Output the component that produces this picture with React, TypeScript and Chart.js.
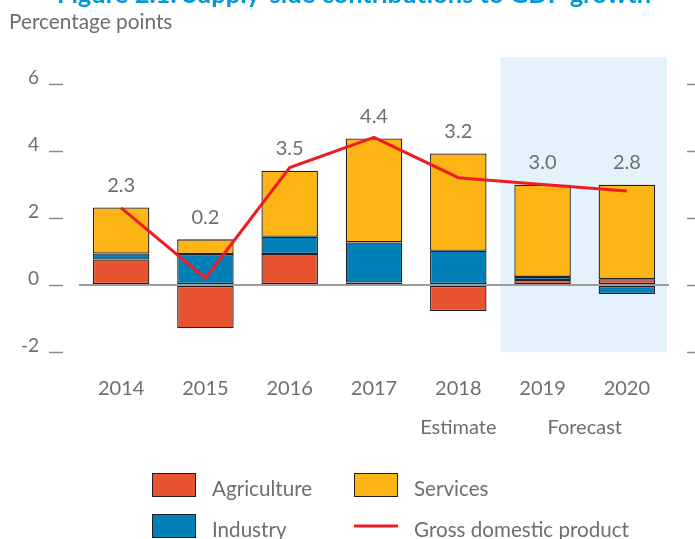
import React, { useEffect, useRef } from "react";
import { Chart, registerables } from "chart.js";

Chart.register(...registerables);

const categories = ["2014", "2015", "2016", "2017", "2018", "2019", "2020"];
const agriculture = [0.76, -1.29, 0.92, 0.07, -0.78, 0.15, 0.17];
const industry = [0.18, 0.92, 0.52, 1.2, 1.02, 0.09, -0.27];
const services = [1.37, 0.44, 1.97, 3.1, 2.9, 2.75, 2.82];
const gdp = [2.3, 0.2, 3.5, 4.4, 3.2, 3.0, 2.8];
const yTickValues = [-2, 0, 2, 4, 6];
const periodNotes = [
  { text: "Estimate", from: 4, to: 4 },
  { text: "Forecast", from: 5, to: 6 },
];
const forecastStart = 5;
const titleText = "Figure 2.1: Supply-side contributions to GDP growth";
const unitText = "Percentage points";

const FONT = "Lato, 'Open Sans', sans-serif";
const GRAY = "#6d6e71";
const C_AGRI = "#E8542F";
const C_IND = "#0080B7";
const C_SERV = "#FDB515";
const C_GDP = "#EE1D25";
const C_EDGE = "#231F20";

const decorPlugin = {
  id: "decor",
  beforeDraw(chart: any) {
    const { ctx, chartArea, scales } = chart;
    const x = scales.x;
    const left =
      (x.getPixelForValue(forecastStart - 1) + x.getPixelForValue(forecastStart)) / 2;
    ctx.save();
    ctx.fillStyle = "#E4F2FB";
    ctx.fillRect(left, chartArea.top, chartArea.right - 2 - left, chartArea.bottom - chartArea.top);
    ctx.restore();
  },
  afterDraw(chart: any) {
    const { ctx, scales } = chart;
    const x = scales.x;
    const y = scales.y;
    ctx.save();
    // title (cut off at top) and unit label
    ctx.fillStyle = "#0098D8";
    ctx.font = `bold 25.5px ${FONT}`;
    ctx.textAlign = "center";
    ctx.textBaseline = "alphabetic";
    ctx.fillText(titleText, 354, 3);
    ctx.fillStyle = GRAY;
    ctx.font = `20.8px ${FONT}`;
    ctx.textAlign = "left";
    ctx.fillText(unitText, 9, 29);

    // tick marks on both sides
    ctx.strokeStyle = "#8a8a8a";
    ctx.lineWidth = 1.5;
    yTickValues.forEach((v) => {
      const py = Math.round(y.getPixelForValue(v)) + 0.5;
      ctx.beginPath();
      ctx.moveTo(49, py);
      ctx.lineTo(63, py);
      ctx.moveTo(687, py);
      ctx.lineTo(695, py);
      ctx.stroke();
    });

    // value labels above bars
    ctx.fillStyle = GRAY;
    ctx.font = `20px ${FONT}`;
    ctx.textAlign = "center";
    ctx.textBaseline = "middle";
    categories.forEach((_, i) => {
      const pos = [agriculture[i], industry[i], services[i]]
        .filter((v) => v > 0)
        .reduce((a, b) => a + b, 0);
      const px = x.getPixelForValue(i);
      const py = y.getPixelForValue(pos) - 22;
      ctx.fillText(gdp[i].toFixed(1), px, py);
    });

    // period notes under axis
    periodNotes.forEach((n) => {
      const px = (x.getPixelForValue(n.from) + x.getPixelForValue(n.to)) / 2;
      ctx.fillText(n.text, px, 428);
    });

    // legend
    const items = chart.data.datasets;
    const find = (lbl: string) => items.find((d: any) => d.label === lbl);
    const layout = [
      { ds: find("Agriculture"), bx: 152, cy: 485 },
      { ds: find("Services"), bx: 354, cy: 485 },
      { ds: find("Industry"), bx: 152, cy: 526 },
      { ds: find("Gross domestic product"), bx: 354, cy: 526 },
    ];
    ctx.font = `20.6px ${FONT}`;
    ctx.textAlign = "left";
    ctx.textBaseline = "alphabetic";
    layout.forEach((it) => {
      if (!it.ds) return;
      if (it.ds.type === "line") {
        ctx.strokeStyle = it.ds.borderColor;
        ctx.lineWidth = 3;
        ctx.beginPath();
        ctx.moveTo(it.bx, it.cy);
        ctx.lineTo(it.bx + 44, it.cy);
        ctx.stroke();
      } else {
        ctx.fillStyle = it.ds.backgroundColor;
        ctx.fillRect(it.bx, it.cy - 12, 44, 24);
        ctx.strokeStyle = C_EDGE;
        ctx.lineWidth = 1;
        ctx.strokeRect(it.bx + 0.5, it.cy - 11.5, 43, 23);
      }
      ctx.fillStyle = GRAY;
      ctx.fillText(it.ds.label, it.bx + 60, it.cy + 11);
    });
    ctx.restore();
  },
};

export default function App() {
  const ref = useRef<HTMLCanvasElement | null>(null);
  useEffect(() => {
    document.body.style.margin = "0";
    if (!ref.current) return;
    const barCommon = {
      type: "bar" as const,
      borderColor: C_EDGE,
      borderWidth: 1.3,
      borderSkipped: false,
      stack: "supply",
      order: 1,
      categoryPercentage: 1,
      barPercentage: 0.67,
    };
    const chart = new Chart(ref.current, {
      type: "bar",
      data: {
        labels: categories,
        datasets: [
          {
            type: "line",
            label: "Gross domestic product",
            data: gdp,
            borderColor: C_GDP,
            backgroundColor: C_GDP,
            borderWidth: 3,
            pointRadius: 0,
            tension: 0,
            stack: "gdp",
            order: 0,
          } as any,
          { ...barCommon, label: "Agriculture", data: agriculture, backgroundColor: C_AGRI },
          { ...barCommon, label: "Industry", data: industry, backgroundColor: C_IND },
          { ...barCommon, label: "Services", data: services, backgroundColor: C_SERV },
        ],
      },
      options: {
        responsive: false,
        animation: false,
        layout: { padding: { top: 57, right: 26, bottom: 117, left: 0 } },
        plugins: { legend: { display: false }, tooltip: { enabled: false } },
        scales: {
          x: {
            stacked: true,
            grid: { display: false },
            border: { display: false },
            ticks: {
              color: GRAY,
              font: { family: FONT, size: 20 },
              padding: 17,
            },
            afterFit: (s: any) => {
              s.height = 70;
            },
          },
          y: {
            stacked: true,
            min: -2,
            max: 6.8,
            afterBuildTicks: (s: any) => {
              s.ticks = yTickValues.map((v) => ({ value: v }));
            },
            grid: {
              drawTicks: false,
              color: (c: any) => (c.tick && c.tick.value === 0 ? "#9b9b9b" : "rgba(0,0,0,0)"),
              lineWidth: 2,
            },
            border: { display: false },
            ticks: {
              color: GRAY,
              font: { family: FONT, size: 19 },
              padding: 40,
              labelOffset: -6,
              callback: (v: any) => String(v),
            },
            afterFit: (s: any) => {
              s.width = 79;
            },
          },
        },
      },
      plugins: [decorPlugin],
    });
    return () => chart.destroy();
  }, []);
  return (
    <div style={{ position: "relative", width: 695, height: 539 }}>
      <canvas ref={ref} width={695} height={539} />
    </div>
  );
}
